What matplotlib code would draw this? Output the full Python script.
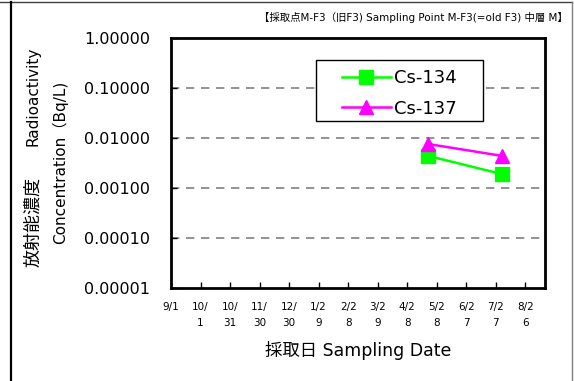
import numpy as np
import pandas as pd
import matplotlib.pyplot as plt
from matplotlib.lines import Line2D
from matplotlib.patches import Rectangle

plt.rcParams['font.family'] = ['DejaVu Sans', 'Noto Sans CJK JP']

# sampling data (Bq/L)
start = pd.Timestamp('2011-09-01')
sample_dates = ['2012-05-19', '2012-08-02']
cs134 = [0.0044, 0.0019]
cs137 = [0.0076, 0.0044]

tick_labels = ['9/1', '10/\n1', '10/\n31', '11/\n30', '12/\n30', '1/2\n9', '2/2\n8',
               '3/2\n9', '4/2\n8', '5/2\n8', '6/2\n7', '7/2\n7', '8/2\n6']
tick_step = 30
x_max_days = 380

days = [(pd.Timestamp(d) - start).days for d in sample_dates]
tick_pos = np.arange(len(tick_labels)) * tick_step

W, H = 574, 381
fig = plt.figure(figsize=(W / 100, H / 100), dpi=100)
ax = fig.add_axes([171 / W, 1 - 288 / H, (545 - 171) / W, (288 - 38) / H])

ax.plot(days, cs134, color='#00FF00', marker='s', markersize=10, linewidth=1.8,
        label='Cs-134')
ax.plot(days, cs137, color='#FF00FF', marker='^', markersize=10, linewidth=1.8,
        label='Cs-137')

ax.set_yscale('log')
ax.set_ylim(1e-5, 1)
ax.set_xlim(0, x_max_days)
ax.set_yticks([1, 0.1, 0.01, 0.001, 0.0001, 0.00001])
ax.set_yticklabels(['1.00000', '0.10000', '0.01000', '0.00100', '0.00010', '0.00001'],
                   fontsize=11.5)
ax.minorticks_off()
ax.set_xticks(tick_pos)
ax.set_xticklabels(tick_labels, fontsize=7.5, linespacing=1.75)
ax.tick_params(axis='both', direction='in', length=4, width=1)
ax.tick_params(axis='y', pad=15)
ax.tick_params(axis='x', pad=10)

for v in [0.1, 0.01, 0.001, 0.0001]:
    ax.axhline(v, color='#808080', linestyle=(0, (5, 4)), linewidth=1.2, zorder=0)

for s in ax.spines.values():
    s.set_linewidth(2)

# y axis title, Japanese and English parts
fig.text(33 / W, 1 - 222 / H, '放射能濃度', family='Noto Sans CJK JP', fontsize=13,
         rotation=90, ha='center', va='center')
fig.text(33 / W, 1 - 96 / H, 'Radioactivity', fontsize=11,
         rotation=90, ha='center', va='center')
fig.text(60 / W, 1 - 162 / H, 'Concentration（Bq/L)', fontsize=11,
         rotation=90, ha='center', va='center')

ax.set_xlabel('採取日 Sampling Date', fontsize=12.5)
ax.xaxis.set_label_coords(0.5, -0.21)

leg = ax.legend(loc='upper left', bbox_to_anchor=((342 - 171) / 374, (288 - 69) / 250),
                fontsize=13, frameon=False, borderpad=0, borderaxespad=0,
                handlelength=2.7, labelspacing=0.7, handletextpad=0.2)
ax.add_patch(Rectangle((316 / W, 1 - 121 / H), (483 - 316) / W, (121 - 60) / H,
                       transform=fig.transFigure, facecolor='white',
                       edgecolor='black', linewidth=1, zorder=4))
leg.set_zorder(5)

fig.text(568 / W, 1 - 17 / H,
         '【採取点M-F3（旧F3) Sampling Point M-F3(=old F3) 中層 M】',
         ha='right', va='center', fontsize=7.5)

# outer frame lines
fig.add_artist(Line2D([0, 572 / W], [1 - 2 / H, 1 - 2 / H],
                      color='#404040', linewidth=1, transform=fig.transFigure))
fig.add_artist(Line2D([11 / W, 11 / W], [0, 1 - 2 / H],
                      color='black', linewidth=1.6, transform=fig.transFigure))
fig.add_artist(Line2D([572 / W, 572 / W], [0, 1 - 2 / H],
                      color='#808080', linewidth=1, transform=fig.transFigure))

fig.savefig('out.png', dpi=100)
